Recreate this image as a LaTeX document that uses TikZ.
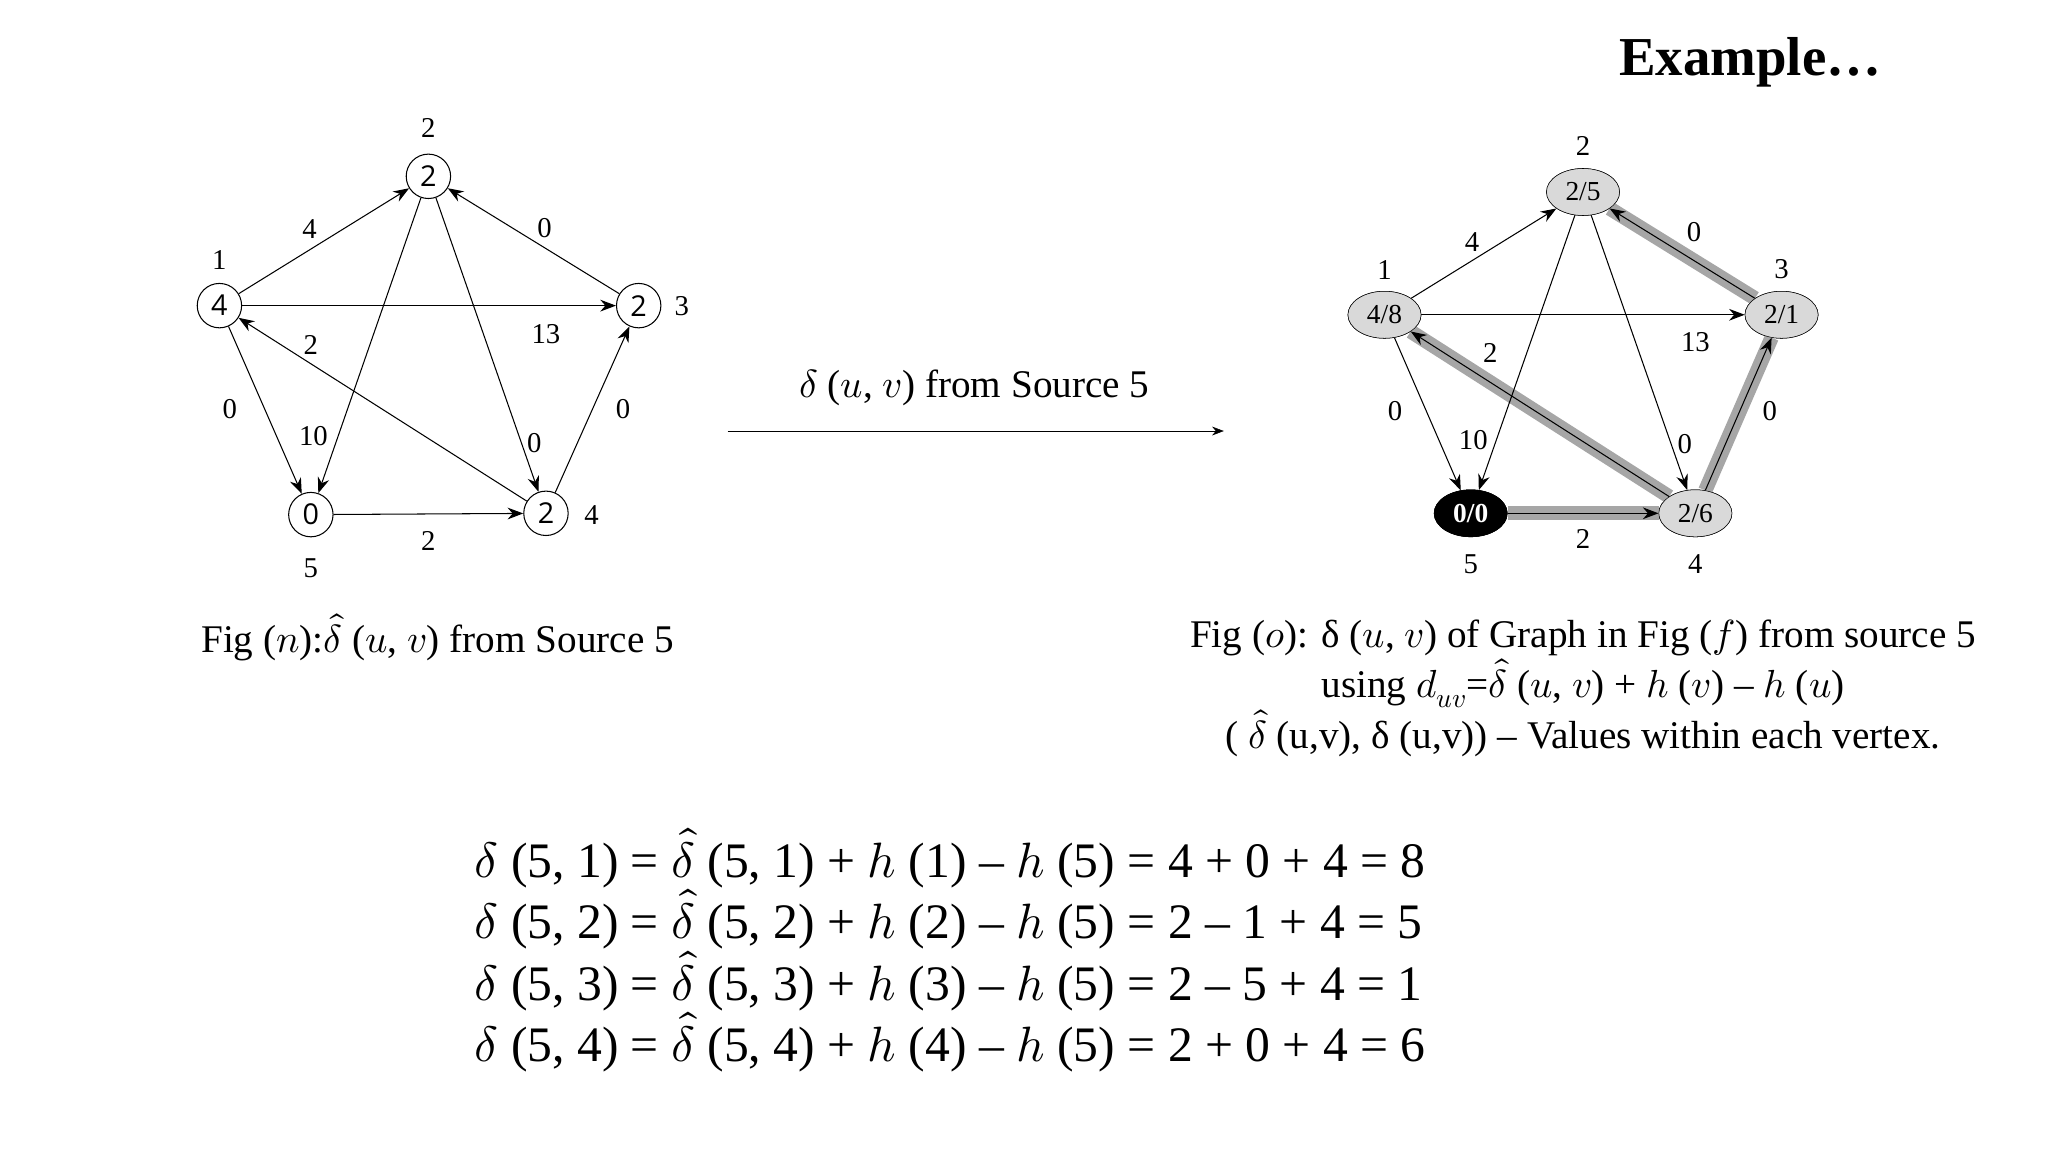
\documentclass[tikz,border=0pt]{standalone}
\usepackage{fontspec}
\usepackage{unicode-math}
\setmathfont{Latin Modern Math}
\setmainfont{Liberation Serif}
\newfontfamily\sansf{Open Sans}
\usetikzlibrary{arrows.meta,shapes.geometric}
\newcommand{\dhat}{$\widehat{\delta}$}
\begin{document}
\begin{tikzpicture}[x=1pt,y=-1pt,
  vtx/.style={circle,draw,thick,fill=white,minimum size=34pt,inner sep=0pt,font=\sansf\fontsize{22}{22}\selectfont},
  evtx/.style={ellipse,draw,fill=black!15,minimum width=56pt,minimum height=36pt,inner sep=0pt,font=\fontsize{21}{21}\selectfont},
  lab/.style={font=\fontsize{22}{22}\selectfont},
  arr/.style={-{Stealth[length=12pt,width=9pt]},thick},
  hl/.style={line width=11pt,black!35},
  captxt/.style={font=\fontsize{30}{39}\selectfont},
  eq/.style={font=\fontsize{38}{47}\selectfont,anchor=west}]
\useasboundingbox (0,0) rectangle (1568,882);
\node[font=\bfseries\fontsize{42}{42}\selectfont] (ex) at (1340,48) {Example\dots};
% left graph
\node[vtx] (a2) at (328,135) {2};
\node[vtx] (a1) at (168,234) {4};
\node[vtx] (a3) at (489,234) {2};
\node[vtx] (a5) at (238,394) {0};
\node[vtx] (a4) at (418,393) {2};
\node[lab] (la2) at (328,98) {2};
\node[lab] (la1) at (168,199) {1};
\node[lab] (la3) at (522,234) {3};
\node[lab] (la5) at (238,435) {5};
\node[lab] (la4) at (453,394) {4};
\draw[arr] (a1) -- (a2);
\draw[arr] (a3) -- (a2);
\draw[arr] (a1) -- (a3);
\draw[arr] (a4) -- (a1);
\draw[arr] (a1) -- (a5);
\draw[arr] (a2) -- (a5);
\draw[arr] (a2) -- (a4);
\draw[arr] (a5) -- (a4);
\draw[arr] (a4) -- (a3);
\node[lab] (w1) at (237,175) {4};
\node[lab] (w2) at (417,175) {0};
\node[lab] (w3) at (418,256) {13};
\node[lab] (w4) at (238,264) {2};
\node[lab] (w5) at (176,313) {0};
\node[lab] (w6) at (240,334) {10};
\node[lab] (w7) at (409,339) {0};
\node[lab] (w8) at (328,414) {2};
\node[lab] (w9) at (477,313) {0};
% middle arrow
\coordinate (m1) at (557,330);
\coordinate (m2) at (937,330);
\draw[-{Stealth[length=9pt]}] (m1) -- (m2);
\node[captxt] (mt) at (746,297) {$\delta$ ($u$, $v$) from Source 5};
% right graph
\node[evtx] (b2) at (1212,147) {2/5};
\node[evtx] (b1) at (1060,241) {4/8};
\node[evtx] (b3) at (1364,241) {2/1};
\node[evtx,fill=black,text=white] (b5) at (1126,393) {0/0};
\node[evtx] (b4) at (1298,393) {2/6};
\node[lab] (lb2) at (1212,112) {2};
\node[lab] (lb1) at (1060,207) {1};
\node[lab] (lb3) at (1364,206) {3};
\node[lab] (lb5) at (1126,432) {5};
\node[lab] (lb4) at (1298,432) {4};
\draw[hl] (b3) -- (b2);
\draw[hl] (b4) -- (b1);
\draw[hl] (b5) -- (b4);
\draw[hl] (b4) -- (b3);
\draw[arr] (b1) -- (b2);
\draw[arr] (b3) -- (b2);
\draw[arr] (b1) -- (b3);
\draw[arr] (b4) -- (b1);
\draw[arr] (b1) -- (b5);
\draw[arr] (b2) -- (b5);
\draw[arr] (b2) -- (b4);
\draw[arr] (b5) -- (b4);
\draw[arr] (b4) -- (b3);
\node[evtx] at (b2) {2/5};
\node[evtx] at (b1) {4/8};
\node[evtx] at (b3) {2/1};
\node[evtx,fill=black,text=white,font=\bfseries\fontsize{21}{21}\selectfont] at (b5) {0/0};
\node[evtx] at (b4) {2/6};
\node[lab] (v1) at (1127,185) {4};
\node[lab] (v2) at (1297,178) {0};
\node[lab] (v3) at (1298,262) {13};
\node[lab] (v4) at (1141,270) {2};
\node[lab] (v5) at (1068,315) {0};
\node[lab] (v6) at (1128,337) {10};
\node[lab] (v7) at (1290,340) {0};
\node[lab] (v8) at (1212,413) {2};
\node[lab] (v9) at (1355,315) {0};
% captions
\node[captxt] (c1) at (335,488) {Fig ($n$):\dhat{} ($u$, $v$) from Source 5};
\node[captxt,align=center] (c2) at (1212,527) {Fig ($o$): δ ($u$, $v$) of Graph in Fig ($f$) from source 5\\
using $d_{uv}$=\dhat{} ($u$, $v$) + $h$ ($v$) -- $h$ ($u$)\\
( \dhat{} (u,v), δ (u,v)) -- Values within each vertex.};
% equations
\node[eq] (e1) at (360,657) {$\delta$ (5, 1) = \dhat{} (5, 1) + $h$ (1) -- $h$ (5) = 4 + 0 + 4 = 8};
\node[eq] (e2) at (360,704) {$\delta$ (5, 2) = \dhat{} (5, 2) + $h$ (2) -- $h$ (5) = 2 -- 1 + 4 = 5};
\node[eq] (e3) at (360,751) {$\delta$ (5, 3) = \dhat{} (5, 3) + $h$ (3) -- $h$ (5) = 2 -- 5 + 4 = 1};
\node[eq] (e4) at (360,798) {$\delta$ (5, 4) = \dhat{} (5, 4) + $h$ (4) -- $h$ (5) = 2 + 0 + 4 = 6};
\end{tikzpicture}
\end{document}
